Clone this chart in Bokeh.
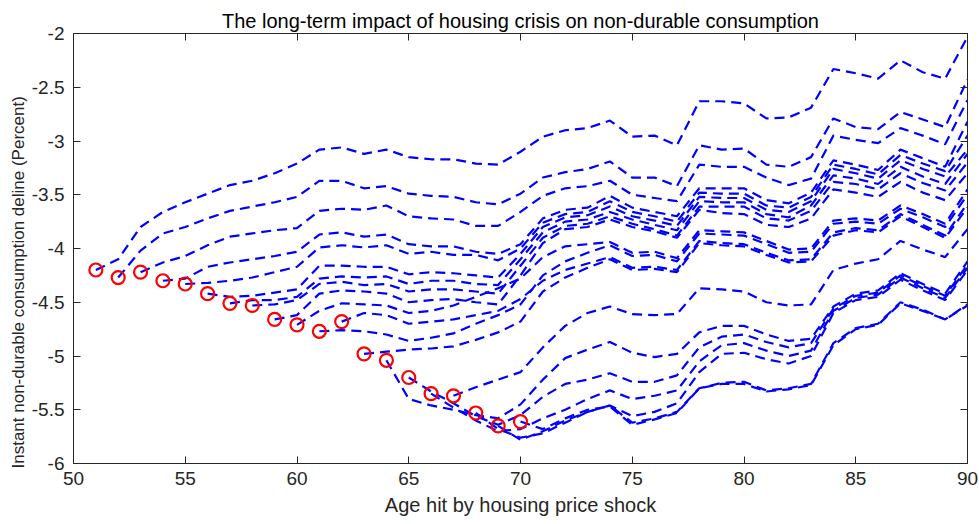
from bokeh.plotting import figure
from bokeh.models import Range1d, LinearAxis, FixedTicker, Title
from bokeh.embed import file_html
from bokeh.resources import INLINE

# ---- data -------------------------------------------------------------
start_ages = list(range(51, 71))
start_values = [-4.20, -4.27, -4.22, -4.30, -4.33, -4.42, -4.51, -4.53, -4.66, -4.71,
                -4.77, -4.68, -4.98, -5.04, -5.20, -5.35, -5.37, -5.53, -5.65, -5.61]

line_51 = [-4.20, -4.10, -3.80, -3.66, -3.57, -3.49, -3.41, -3.37, -3.30, -3.21,
           -3.08, -3.06, -3.12, -3.08, -3.15, -3.17, -3.17, -3.21, -3.22, -3.10,
           -2.96, -2.90, -2.88, -2.81, -2.96, -2.95, -3.04, -2.63, -2.63, -2.65,
           -2.79, -2.78, -2.69, -2.33, -2.37, -2.42, -2.25, -2.36, -2.42, -2.03]
line_52 = [-4.27, -4.02, -3.86, -3.80, -3.72, -3.65, -3.61, -3.57, -3.52,
           -3.37, -3.37, -3.44, -3.42, -3.49, -3.51, -3.52, -3.57, -3.59, -3.49,
           -3.34, -3.29, -3.26, -3.19, -3.34, -3.34, -3.42, -3.04, -3.08, -3.07,
           -3.22, -3.24, -3.15, -2.79, -2.87, -2.89, -2.73, -2.80, -2.87, -2.43]
line_53 = [-4.22, -4.13, -4.07, -3.97, -3.89, -3.86, -3.83, -3.81,
           -3.65, -3.63, -3.64, -3.60, -3.70, -3.72, -3.73, -3.79, -3.79, -3.66,
           -3.51, -3.44, -3.42, -3.37, -3.50, -3.53, -3.56, -3.22, -3.24, -3.24,
           -3.34, -3.41, -3.35, -2.95, -2.99, -3.02, -2.88, -2.95, -3.03, -2.62]
line_54 = [-4.30, -4.28, -4.17, -4.13, -4.10, -4.07, -4.03,
           -3.87, -3.85, -3.89, -3.87, -3.96, -3.98, -3.98, -4.03, -4.05, -3.96,
           -3.72, -3.64, -3.62, -3.51, -3.62, -3.66, -3.70, -3.44, -3.44, -3.44,
           -3.55, -3.58, -3.48, -3.18, -3.22, -3.27, -3.08, -3.16, -3.24, -2.82]
line_55 = [-4.33, -4.32, -4.30, -4.27, -4.22, -4.17,
           -3.99, -3.97, -3.99, -3.97, -4.05, -4.03, -4.06, -4.06, -4.11, -4.00,
           -3.76, -3.68, -3.66, -3.56, -3.66, -3.70, -3.75, -3.48, -3.49, -3.49,
           -3.60, -3.62, -3.52, -3.22, -3.26, -3.31, -3.13, -3.21, -3.28, -2.95]
line_56 = [-4.42, -4.45, -4.44, -4.41, -4.38,
           -4.16, -4.16, -4.17, -4.17, -4.24, -4.22, -4.23, -4.25, -4.27, -4.05,
           -3.80, -3.71, -3.69, -3.61, -3.70, -3.74, -3.79, -3.52, -3.53, -3.53,
           -3.64, -3.66, -3.56, -3.26, -3.30, -3.35, -3.18, -3.26, -3.33, -3.08]
line_57 = [-4.51, -4.48, -4.48, -4.45,
           -4.28, -4.26, -4.27, -4.26, -4.33, -4.30, -4.30, -4.33, -4.34, -4.10,
           -3.85, -3.75, -3.73, -3.66, -3.73, -3.78, -3.83, -3.56, -3.57, -3.57,
           -3.68, -3.71, -3.60, -3.32, -3.35, -3.40, -3.24, -3.33, -3.40, -3.12]
line_58 = [-4.53, -4.52, -4.48,
           -4.33, -4.31, -4.34, -4.33, -4.40, -4.38, -4.38, -4.40, -4.42, -4.16,
           -3.90, -3.79, -3.77, -3.70, -3.77, -3.82, -3.88, -3.61, -3.61, -3.61,
           -3.72, -3.74, -3.65, -3.38, -3.40, -3.45, -3.30, -3.39, -3.46, -3.20]
line_59 = [-4.66, -4.62,
           -4.42, -4.39, -4.40, -4.42, -4.50, -4.48, -4.47, -4.50, -4.52, -4.25,
           -3.95, -3.82, -3.80, -3.73, -3.80, -3.84, -3.90, -3.64, -3.67, -3.68,
           -3.78, -3.80, -3.72, -3.45, -3.48, -3.52, -3.38, -3.48, -3.55, -3.30]
line_60 = [-4.71,
           -4.58, -4.51, -4.52, -4.53, -4.60, -4.58, -4.53, -4.45, -4.37, -4.28,
           -4.08, -3.98, -3.96, -3.94, -4.04, -4.03, -4.09, -3.83, -3.84, -3.85,
           -3.93, -4.01, -4.00, -3.74, -3.72, -3.74, -3.60, -3.68, -3.77, -3.45]
line_61 = [-4.77, -4.76, -4.77, -4.80, -4.86, -4.83, -4.79, -4.70, -4.62, -4.52,
           -4.25, -4.12, -4.04, -3.97, -4.07, -4.06, -4.12, -3.86, -3.87, -3.88,
           -3.96, -4.04, -4.03, -3.77, -3.75, -3.77, -3.63, -3.71, -3.80, -3.50]
line_62 = [-4.68, -4.60, -4.62, -4.70, -4.68, -4.66, -4.62, -4.58, -4.47,
           -4.30, -4.20, -4.14, -4.08, -4.18, -4.17, -4.20, -3.93, -3.95, -3.96,
           -4.04, -4.11, -4.10, -3.85, -3.81, -3.83, -3.68, -3.78, -3.88, -3.58]
line_63 = [-4.98, -4.96, -4.94, -4.93, -4.91, -4.85, -4.78, -4.68,
           -4.40, -4.27, -4.18, -4.10, -4.20, -4.19, -4.22, -3.95, -3.97, -3.98,
           -4.06, -4.13, -4.12, -3.88, -3.83, -3.85, -3.70, -3.80, -3.90, -3.62]
line_64 = [-5.04, -5.40, -5.46, -5.50, -5.55, -5.58, -5.45,
           -5.22, -5.02, -4.94, -4.87, -4.97, -5.01, -4.98, -4.78, -4.72, -4.72,
           -4.80, -4.86, -4.84, -4.54, -4.42, -4.39, -4.23, -4.33, -4.42, -4.12]
line_65 = [-5.20, -5.33, -5.44, -5.56, -5.64, -5.55,
           -5.38, -5.26, -5.22, -5.16, -5.24, -5.24, -5.18, -4.92, -4.82, -4.80,
           -4.87, -4.92, -4.88, -4.56, -4.44, -4.41, -4.25, -4.35, -4.44, -4.15]
line_66 = [-5.35, -5.48, -5.60, -5.70, -5.68,
           -5.58, -5.50, -5.40, -5.32, -5.40, -5.37, -5.32, -5.05, -4.90, -4.88,
           -4.95, -5.00, -4.95, -4.58, -4.46, -4.43, -4.27, -4.37, -4.46, -4.18]
line_67 = [-5.37, -5.29, -5.22, -5.15,
           -4.92, -4.72, -4.60, -4.54, -4.61, -4.62, -4.61, -4.37, -4.38, -4.40,
           -4.50, -4.53, -4.52, -4.20, -4.14, -4.10, -3.93, -4.01, -4.08, -3.82]
line_68 = [-5.53, -5.68, -5.76,
           -5.72, -5.62, -5.52, -5.46, -5.56, -5.52, -5.44, -5.15, -4.98, -4.97,
           -5.03, -5.07, -5.00, -4.60, -4.48, -4.45, -4.29, -4.39, -4.48, -4.20]
line_69 = [-5.65, -5.78,
           -5.70, -5.60, -5.52, -5.46, -5.62, -5.58, -5.52, -5.30, -5.25, -5.24,
           -5.32, -5.30, -5.26, -4.88, -4.74, -4.70, -4.50, -4.57, -4.66, -4.52]
line_70 = [-5.61,
           -5.68, -5.58, -5.50, -5.47, -5.64, -5.59, -5.53, -5.30, -5.26, -5.26,
           -5.33, -5.31, -5.27, -4.90, -4.75, -4.71, -4.51, -4.58, -4.66, -4.53]

paths = [line_51, line_52, line_53, line_54, line_55, line_56, line_57, line_58,
         line_59, line_60, line_61, line_62, line_63, line_64, line_65, line_66,
         line_67, line_68, line_69, line_70]
end_age = 90

x_ticks = [50, 55, 60, 65, 70, 75, 80, 85, 90]
y_ticks = [-6, -5.5, -5, -4.5, -4, -3.5, -3, -2.5, -2]
y_tick_labels = ["-6", "-5.5", "-5", "-4.5", "-4", "-3.5", "-3", "-2.5", "-2"]

title_text = "The long-term impact of housing crisis on non-durable consumption"
x_label = "Age hit by housing price shock"
y_label = "Instant non-durable consumption deline (Percent)"

# ---- figure -----------------------------------------------------------
FONT = "Liberation Sans"
AXC = "#262626"

p = figure(width=979, height=524, output_backend="svg", toolbar_location=None,
           x_range=Range1d(50, 90), y_range=Range1d(-6, -2),
           min_border_left=73, min_border_right=12, min_border_top=33,
           min_border_bottom=61)
p.background_fill_color = "white"
p.border_fill_color = "white"
p.outline_line_color = AXC
p.outline_line_width = 1
p.xgrid.visible = False
p.ygrid.visible = False

p.title.text = title_text
p.title.align = "center"
p.title.text_font = FONT
p.title.text_font_size = "20px"
p.title.text_font_style = "normal"
p.title.text_color = "black"
p.title.standoff = 4
p.title.offset = 0

for i, (a0, vals) in enumerate(zip(start_ages, paths)):
    ages = list(range(a0, end_age + 1))
    p.line(ages, vals, line_color="#0000ff", line_width=2.2, line_dash="10 6")

p.scatter(start_ages, start_values, marker="circle", size=13,
          fill_color=None, line_color="#ff0000", line_width=2.2)

def style_axis(ax, labels=True):
    ax.axis_line_color = AXC
    ax.major_tick_line_color = AXC
    ax.major_tick_in = 7
    ax.major_tick_out = 0
    ax.minor_tick_line_color = None
    ax.major_label_text_font = FONT
    ax.axis_label_text_font = FONT
    ax.axis_label_text_color = AXC
    ax.axis_label_text_font_style = "normal"
    if labels:
        ax.major_label_text_color = AXC
        ax.major_label_text_font_size = "19px"
        ax.axis_label_text_font_size = "20px"
    else:
        ax.major_label_text_color = None
        ax.major_label_text_font_size = "1px"
        ax.major_label_standoff = 0
        ax.axis_label_standoff = 0

xa = p.xaxis[0]
xa.ticker = FixedTicker(ticks=x_ticks)
xa.axis_label = x_label
xa.major_label_standoff = 8
xa.axis_label_standoff = 6
style_axis(xa)

ya = p.yaxis[0]
ya.ticker = FixedTicker(ticks=y_ticks)
ya.major_label_overrides = {float(t): s for t, s in zip(y_ticks, y_tick_labels)}
ya.major_label_standoff = 9
style_axis(ya)

top = LinearAxis(ticker=FixedTicker(ticks=x_ticks))
style_axis(top, labels=False)
p.add_layout(top, "above")
right = LinearAxis(ticker=FixedTicker(ticks=y_ticks))
style_axis(right, labels=False)
p.add_layout(right, "right")

ylab = Title(text=y_label, align="left", offset=-5, standoff=2,
             text_font=FONT, text_font_size="17px", text_font_style="normal",
             text_color=AXC)
p.add_layout(ylab, "left")

open("out.html", "w").write(file_html(p, INLINE))
